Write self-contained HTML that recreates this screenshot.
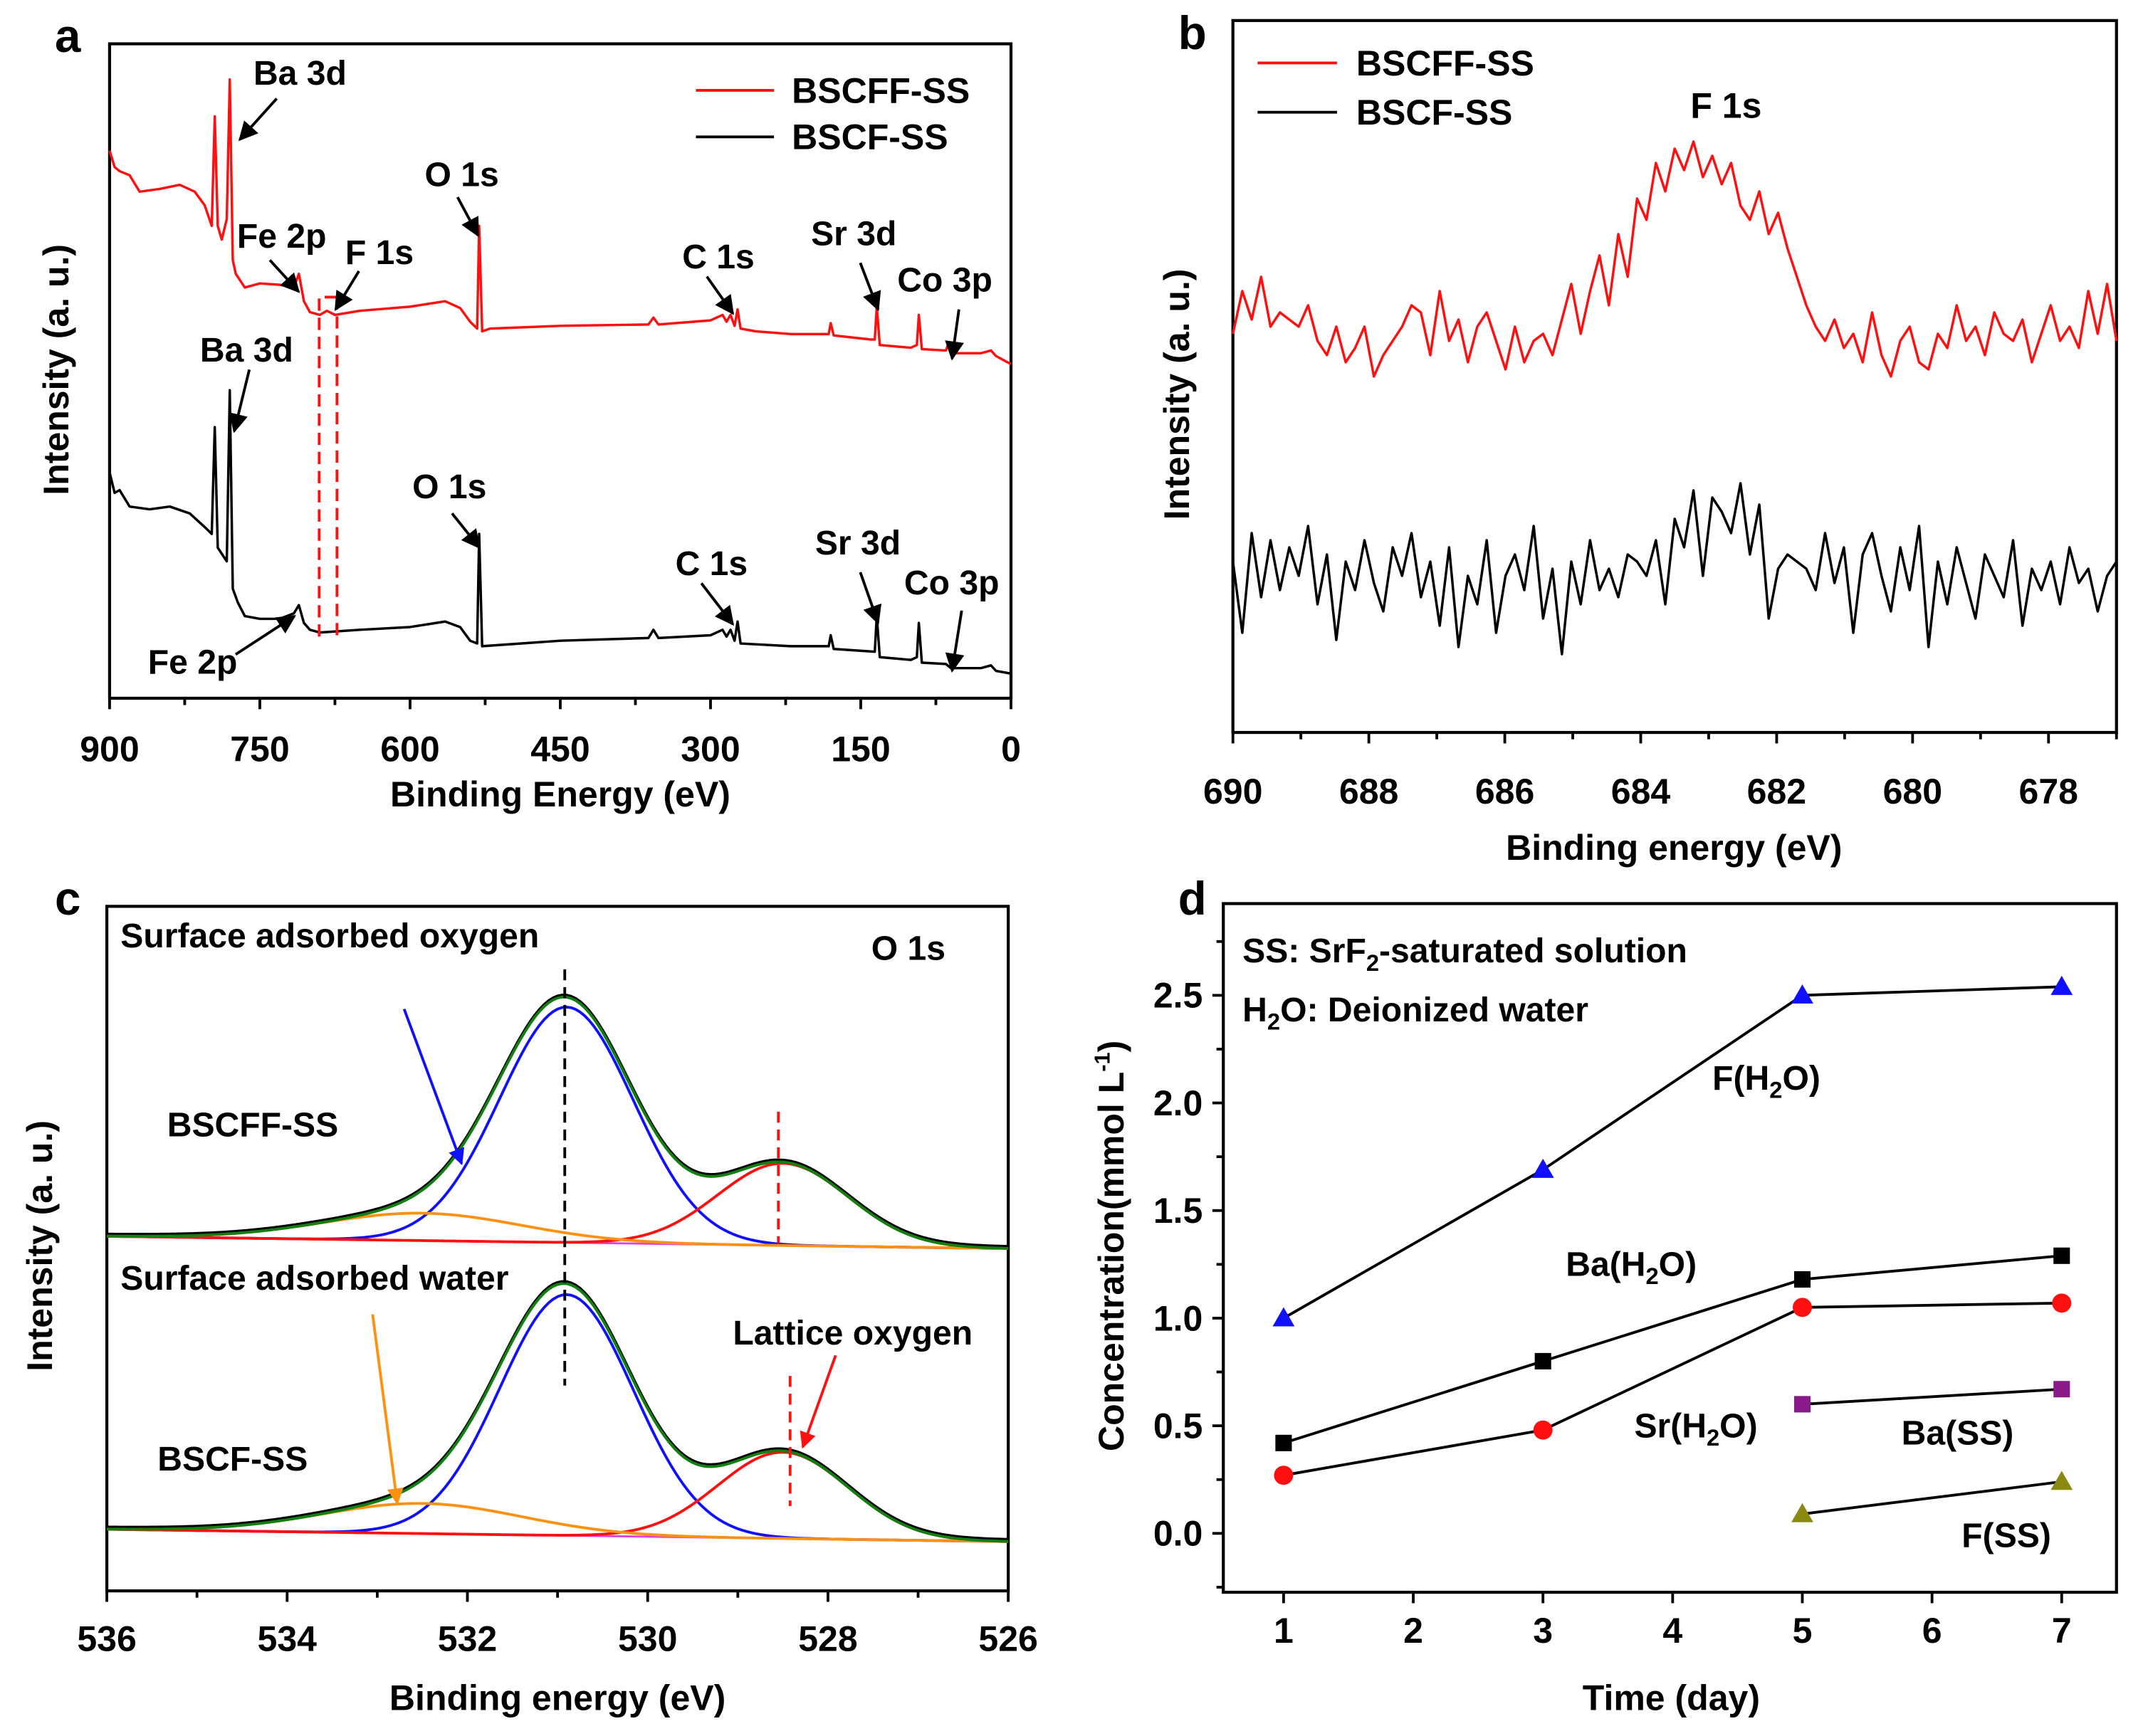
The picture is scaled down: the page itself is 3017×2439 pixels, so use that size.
<!DOCTYPE html>
<html><head><meta charset="utf-8"><style>
html,body{margin:0;padding:0;background:#fff;}
svg{display:block;}
text{font-family:"Liberation Sans",Arial,sans-serif;font-weight:bold;fill:#000;}
</style></head><body>
<svg id="fig" xmlns="http://www.w3.org/2000/svg" width="3017" height="2439" viewBox="0 0 1568 1268" preserveAspectRatio="none">
<defs>
<marker id="ak" viewBox="0 0 10 10" refX="9" refY="5" markerWidth="7" markerHeight="7" orient="auto"><path d="M0,0 L10,5 L0,10 z" fill="#000"/></marker>
<marker id="ab" viewBox="0 0 10 10" refX="9" refY="5" markerWidth="6" markerHeight="6" orient="auto"><path d="M0,0 L10,5 L0,10 z" fill="#1010ff"/></marker>
<marker id="ao" viewBox="0 0 10 10" refX="9" refY="5" markerWidth="6" markerHeight="6" orient="auto"><path d="M0,0 L10,5 L0,10 z" fill="#ff9010"/></marker>
<marker id="ar" viewBox="0 0 10 10" refX="9" refY="5" markerWidth="6" markerHeight="6" orient="auto"><path d="M0,0 L10,5 L0,10 z" fill="#ff1010"/></marker>
</defs>
<g id="root"></g>
</svg>
<script>
// ---------- Panel a data ----------
const aRedBE=[900,895,890,880,870,850,830,815,805,798,795,792,788,783,780,777,774,765,750,730,716,711,706,700,690,683,675,650,600,565,550,540,533,531,528,520,450,362,357,352,300,288,284,280,276,273,270,255,220,182,180,177,140,136,134,131,100,94,92,89,65,62,60,30,20,15,0];
const aRedI=[400,388,385,382,370,372,375,370,360,345,425,345,335,350,452,320,310,300,303,302,300,310,290,282,280,283,280,283,286,290,285,275,270,345,268,270,272,273,278,273,276,280,275,280,272,284,270,268,266,266,274,265,262,262,286,258,256,258,280,255,254,260,252,252,254,250,244];
const aBlkBE=[900,895,890,880,860,840,820,805,798,795,792,783,780,777,772,765,750,730,716,711,706,700,690,650,600,565,550,540,533,531,528,450,362,357,352,300,288,284,280,276,273,270,220,182,180,177,136,134,131,100,94,92,89,65,60,30,20,15,0];
const aBlkI=[165,150,152,140,138,140,135,125,120,198,110,100,225,80,70,60,58,58,62,68,55,50,48,50,52,56,52,42,40,120,38,42,44,50,44,46,50,45,50,42,56,40,38,38,46,36,34,60,30,28,30,55,26,25,22,22,24,20,18];
const aTicks=[900,750,600,450,300,150,0];
// ---------- Panel b data ----------
const bRed=[56,62,58,64,57,59,58,57,60,55,53,57,52,54,57,50,53,55,57,60,59,53,62,55,58,52,57,59,55,51,57,52,55,56,53,58,63,56,62,67,60,70,64,75,72,80,76,82,79,83,78,81,77,80,74,72,76,70,73,68,64,60,57,55,58,54,56,52,59,53,50,55,57,52,51,56,54,60,55,57,53,59,56,55,58,52,56,60,55,57,54,62,56,63,55];
const bBlk=[24,14,28,19,27,20,26,22,29,18,25,13,24,20,27,21,17,26,22,28,19,24,15,26,12,22,18,27,14,22,25,20,29,16,23,11,24,18,27,20,23,19,25,24,22,27,18,30,26,34,22,33,31,28,35,25,32,16,23,25,24,23,20,28,21,26,14,25,28,22,17,26,20,29,12,24,18,26,21,16,25,22,19,27,15,23,20,24,18,26,21,23,17,22,24];
const bTicks=[690,688,686,684,682,680,678];
// ---------- Panel c data (fit components: center eV, height, fwhm eV) ----------
const cCenters=[530.9,528.5,532.5];
const cTopHeights=[172,60,20];
const cBotHeights=[176,63,22];
const cFwhm=[1.75,1.7,2.6];
const cTicks=[536,534,532,530,528,526];
// ---------- Panel d data ----------
const dDaysH2O=[1,3,5,7];
const dFH2O=[1.0,1.69,2.5,2.54];
const dBaH2O=[0.42,0.80,1.18,1.29];
const dSrH2O=[0.27,0.48,1.05,1.07];
const dDaysSS=[5,7];
const dBaSS=[0.60,0.67];
const dFSS=[0.09,0.24];
const dXTicks=[1,2,3,4,5,6,7];
const dYTicks=[0.0,0.5,1.0,1.5,2.0,2.5];

const NS="http://www.w3.org/2000/svg";
const root=document.getElementById('root');
function el(tag,attrs,parent){const e=document.createElementNS(NS,tag);for(const k in attrs)e.setAttribute(k,attrs[k]);(parent||root).appendChild(e);return e;}
function txt(x,y,s,size,anchor,parent){const t=el('text',{x:x,y:y,'font-size':size,'text-anchor':anchor||'start'},parent);t.textContent=s;return t;}
function lin(d0,d1,r0,r1){return v=>r0+(v-d0)*(r1-r0)/(d1-d0);}
function poly(xs,ys,fx,fy,color,w,parent){let p='';for(let i=0;i<xs.length;i++)p+=(i?'L':'M')+fx(xs[i]).toFixed(2)+','+fy(ys[i]).toFixed(2);return el('path',{d:p,fill:'none',stroke:color,'stroke-width':w,'stroke-linejoin':'round'},parent);}
function arrow(x1,y1,x2,y2,color,mk,parent){return el('line',{x1:x1,y1:y1,x2:x2,y2:y2,stroke:color,'stroke-width':2,'marker-end':'url(#'+mk+')'},parent);}
function frame(x0,y0,x1,y1,parent){el('rect',{x:x0,y:y0,width:x1-x0,height:y1-y0,fill:'none',stroke:'#000','stroke-width':2.2},parent);}
const TF=26, AF=25;

// ================= Panel a =================
const ga=el('g',{});


{
 const L=80,R=738,T=32,B=510;
 const fx=lin(900,0,L,R), fy=lin(0,478,B,T);
 frame(L,T,R,B,ga);
 for(let v=900;v>=0;v-=75){const x=fx(v);el('line',{x1:x,y1:B,x2:x,y2:B+(v%150===0?8:5),stroke:'#000','stroke-width':2},ga);}
 aTicks.forEach(v=>{const t=txt(fx(v),556,String(v),TF,'middle',ga);});
 const xl=txt(409,589,'Binding Energy (eV)',TF,'middle',ga);
 const yl=txt(0,0,'Intensity (a. u.)',TF,'middle',ga);yl.setAttribute('transform','translate(50,270) rotate(-90)');
 const lt=txt(40,38,'a',34,'start',ga);
 const pr=poly(aRedBE,aRedI,fx,fy,'#ff1010',1.8,ga);
 const pb=poly(aBlkBE,aBlkI,fx,fy,'#000',1.8,ga);
 const box=el('path',{d:'M233,465 L233,217 L246,217 M246,217 L246,465',fill:'none',stroke:'#ff1010','stroke-width':2,'stroke-dasharray':'9,5'},ga);
 
 const lg=el('g',{},ga);
 el('line',{x1:508,y1:66,x2:565,y2:66,stroke:'#ff1010','stroke-width':2},lg);txt(578,75,'BSCFF-SS',TF,'start',lg);
 el('line',{x1:508,y1:100,x2:565,y2:100,stroke:'#000','stroke-width':2},lg);txt(578,109,'BSCF-SS',TF,'start',lg);
 const ann=[['Ba 3d',185,62,202,72,175,102],['Fe 2p',173,181,197,190,218,213],['F 1s',252,193,262,198,245,226],['O 1s',310,136,334,144,349,172],['C 1s',498,196,516,202,535,229],['Sr 3d',592,179,628,192,641,226],['Co 3p',655,213,700,226,695,262],
 ['Ba 3d',146,264,182,270,171,315],['O 1s',301,364,330,375,350,400],['C 1s',493,420,512,426,535,456],['Sr 3d',595,405,628,418,641,455],['Co 3p',660,434,702,446,695,490],['Fe 2p',108,492,172,478,215,450]];
 ann.forEach(a=>{const g=el('g',{},ga);txt(a[1],a[2],a[0],AF,'start',g);arrow(a[3],a[4],a[5],a[6],'#000','ak',g);});
}

// ================= Panel b =================
const gb=el('g',{});


{
 const L=900,R=1545,T=15,B=535;
 const fx=lin(690,677,L,R), fy=lin(0,100,B,B-520);
 frame(L,T,R,B,gb);
 for(let v=690;v>=677;v--){const x=fx(v);el('line',{x1:x,y1:B,x2:x,y2:B+(v%2===0?8:5),stroke:'#000','stroke-width':2},gb);}
 bTicks.forEach(v=>{const t=txt(fx(v),587,String(v),TF,'middle',gb);});
 const xl=txt(1222,628,'Binding energy (eV)',TF,'middle',gb);
 const yl=txt(0,0,'Intensity (a. u.)',TF,'middle',gb);yl.setAttribute('transform','translate(868,288) rotate(-90)');
 const lt=txt(860,36,'b',34,'start',gb);
 const eR=[],eB=[];
 for(let i=0;i<bRed.length;i++)eR.push(690-13*i/(bRed.length-1));
 for(let i=0;i<bBlk.length;i++)eB.push(690-13*i/(bBlk.length-1));
 const pr=poly(eR,bRed,fx,fy,'#ff1010',1.8,gb);
 const pb=poly(eB,bBlk,fx,fy,'#000',1.8,gb);
 const lg=el('g',{},gb);
 el('line',{x1:918,y1:46,x2:976,y2:46,stroke:'#ff1010','stroke-width':2},lg);txt(990,55,'BSCFF-SS',TF,'start',lg);
 el('line',{x1:918,y1:82,x2:976,y2:82,stroke:'#000','stroke-width':2},lg);txt(990,91,'BSCF-SS',TF,'start',lg);
 const f=txt(1234,86,'F 1s',TF,'start',gb);
}

// ================= Panel c =================
const gc=el('g',{});


{
 const L=78,R=736,T=662,B=1162;
 const fx=lin(536,526,L,R);
 frame(L,T,R,B,gc);
 for(let v=536;v>=526;v--){const x=fx(v);el('line',{x1:x,y1:B,x2:x,y2:B+(v%2===0?8:5),stroke:'#000','stroke-width':2},gc);}
 cTicks.forEach(v=>{const t=txt(fx(v),1206,String(v),TF,'middle',gc);});
 const xl=txt(407,1249,'Binding energy (eV)',TF,'middle',gc);
 const yl=txt(0,0,'Intensity (a. u.)',TF,'middle',gc);yl.setAttribute('transform','translate(38,910) rotate(-90)');
 const lt=txt(40,668,'c',34,'start',gc);
 function spec(heights,b0,b1,name){
  const xs=[];for(let e=536;e>=526-1e-9;e-=0.05)xs.push(e);
  const base=e=>b0+(b1-b0)*(536-e)/10;
  const comp=k=>e=>heights[k]*Math.exp(-4*Math.LN2*Math.pow((e-cCenters[k])/cFwhm[k],2));
  const cols=['#1010ff','#ff1010','#ff9010'];
  el('path',{d:'M'+L+','+b0+' L'+R+','+b1,stroke:'#e040e0','stroke-width':1.5,fill:'none'},gc);
  for(let k=0;k<3;k++){const c=comp(k);const p=poly(xs,xs.map(e=>base(e)-c(e)),fx,v=>v,cols[k],2,gc);}
  const sum=e=>base(e)-comp(0)(e)-comp(1)(e)-comp(2)(e);
  const pd=poly(xs,xs.map(e=>sum(e)-1.5),fx,v=>v,'#000',2,gc);
  const pg=poly(xs,xs.map(sum),fx,v=>v,'#108010',2,gc);
 }
 spec(cTopHeights,903,912,'bscff-ss');
 spec(cBotHeights,1117,1126,'bscf-ss');
 el('line',{x1:fx(530.92),y1:708,x2:fx(530.92),y2:1012,stroke:'#000','stroke-width':2,'stroke-dasharray':'8,5'},gc);
 el('line',{x1:fx(528.55),y1:812,x2:fx(528.55),y2:908,stroke:'#ff1010','stroke-width':2,'stroke-dasharray':'8,5'},gc);
 el('line',{x1:fx(528.42),y1:1005,x2:fx(528.42),y2:1100,stroke:'#ff1010','stroke-width':2,'stroke-dasharray':'8,5'},gc);
 const labs=[['Surface adsorbed oxygen',88,692],['BSCFF-SS',122,830],['Surface adsorbed water',88,942],['Lattice oxygen',535,982],['BSCF-SS',115,1074],['O 1s',636,701]];
 labs.forEach(l=>{const t=txt(l[1],l[2],l[0],AF,'start',gc);});
 arrow(295,737,337,850,'#1010ff','ab',gc);
 arrow(272,960,290,1098,'#ff9010','ao',gc);
 arrow(610,990,586,1057,'#ff1010','ar',gc);
}

// ================= Panel d =================
const gd=el('g',{});


{
 const L=893,R=1545,T=660,B=1163;
 const fx=lin(1,7,937,1505), fy=lin(0,2.5,1120,727);
 frame(L,T,R,B,gd);
 dXTicks.forEach(v=>{const x=fx(v);el('line',{x1:x,y1:B,x2:x,y2:B+8,stroke:'#000','stroke-width':2},gd);const t=txt(x,1200,String(v),TF,'middle',gd);});
 for(let v=-0.25;v<=2.9;v+=0.25){const y=fy(v);const maj=Math.abs(v*2-Math.round(v*2))<1e-6;el('line',{x1:L,y1:y,x2:L-(maj?8:5),y2:y,stroke:'#000','stroke-width':2},gd);}
 dYTicks.forEach(v=>{const t=txt(878,fy(v)+9,v.toFixed(1),TF,'end',gd);});
 const xl=txt(1220,1249,'Time (day)',TF,'middle',gd);
 const yl=el('text',{'font-size':TF,'text-anchor':'middle',transform:'translate(820,910) rotate(-90)'},gd);
 
 yl.innerHTML='Concentration(mmol L<tspan font-size="16" dy="-10">-1</tspan><tspan dy="10">)</tspan>';
 const lt=txt(860,668,'d',34,'start',gd);
 function series(days,vals,color,shape,name){
  const g=el('g',{},gd);
  poly(days,vals,fx,fy,'#000',2,g);
  days.forEach((d,i)=>{const x=fx(d),y=fy(vals[i]);let m;
   if(shape==='sq')m=el('rect',{x:x-6,y:y-6,width:12,height:12,fill:color},g);
   else if(shape==='ci')m=el('circle',{cx:x,cy:y,r:7,fill:color},g);
   else m=el('path',{d:`M${x},${y-8} L${x+8},${y+6} L${x-8},${y+6} z`,fill:color},g);
   });
 }
 series(dDaysH2O,dFH2O,'#1010ff','tr','f-h2o-series');
 series(dDaysH2O,dBaH2O,'#000','sq','ba-h2o-series');
 series(dDaysH2O,dSrH2O,'#ff1010','ci','sr-h2o-series');
 series(dDaysSS,dBaSS,'#8a1a8a','sq','ba-ss-series');
 series(dDaysSS,dFSS,'#8a8a10','tr','f-ss-series');
 const ls=[['F(H<tspan font-size="17" dy="6">2</tspan><tspan dy="-6">O)</tspan>',1250,796],['Ba(H<tspan font-size="17" dy="6">2</tspan><tspan dy="-6">O)</tspan>',1143,932],['Sr(H<tspan font-size="17" dy="6">2</tspan><tspan dy="-6">O)</tspan>',1193,1050],['Ba(SS)',1388,1055],['F(SS)',1432,1130],
 ['SS: SrF<tspan font-size="17" dy="6">2</tspan><tspan dy="-6">-saturated solution</tspan>',907,703],['H<tspan font-size="17" dy="6">2</tspan><tspan dy="-6">O: Deionized water</tspan>',907,746]];
 ls.forEach(l=>{const t=el('text',{x:l[1],y:l[2],'font-size':AF},gd);t.innerHTML=l[0];});
}
</script>
</body></html>
